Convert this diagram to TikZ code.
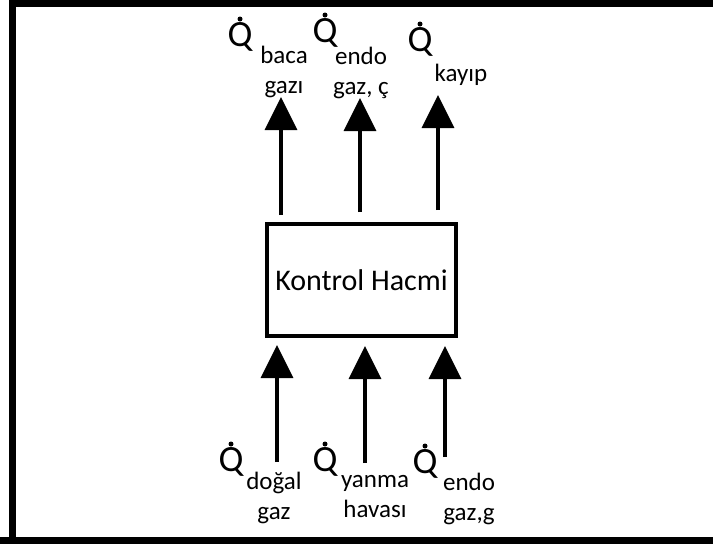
\documentclass[tikz,border=0pt]{standalone}
\usepackage{fontspec}
\setmainfont{Carlito}
\usetikzlibrary{arrows.meta}
\begin{document}
\begin{tikzpicture}[x=1pt,y=-1pt,
  flow/.style={line width=3.5pt,-{Triangle[width=32pt,length=33pt]}},
  qsym/.style={inner sep=0pt,font=\fontsize{37}{37}\selectfont},
  qdot/.style={fill=black,circle,inner sep=0pt,minimum size=5pt},
  lbl/.style={inner sep=0pt,align=center,font=\fontsize{25}{30}\selectfont},
  cvbox/.style={draw,line width=4pt,minimum width=189pt,minimum height=112pt,inner sep=0pt,font=\fontsize{30}{30}\selectfont}]
\useasboundingbox (0,0) rectangle (713,544);
% frame
\draw[line width=7pt] (12,544) -- (12,3.5) -- (713,3.5);
\draw[line width=7pt] (0,540.5) -- (713,540.5);
% control volume
\node[cvbox] (cv) at (361.5,280) {Kontrol Hacmi};
% top arrows
\coordinate (t1s) at (281,215); \coordinate (t1e) at (281,97);
\coordinate (t2s) at (360,212); \coordinate (t2e) at (360,98);
\coordinate (t3s) at (438,210); \coordinate (t3e) at (438,95);
\draw[flow] (t1s) -- (t1e);
\draw[flow] (t2s) -- (t2e);
\draw[flow] (t3s) -- (t3e);
% bottom arrows
\coordinate (b1s) at (277,462); \coordinate (b1e) at (277,345);
\coordinate (b2s) at (365,463); \coordinate (b2e) at (365,346);
\coordinate (b3s) at (445,457); \coordinate (b3e) at (445,346);
\draw[flow] (b1s) -- (b1e);
\draw[flow] (b2s) -- (b2e);
\draw[flow] (b3s) -- (b3e);
% top labels
\node[qsym] (q1) at (240,37) {Q};
\node[qdot] (d1) at (240,19) {};
\node[lbl] (l1) at (284,72) {baca\\gazı};
\node[qsym] (q2) at (325,33) {Q};
\node[qdot] (d2) at (325,15) {};
\node[lbl] (l2) at (361,73) {endo\\gaz, ç};
\node[qsym] (q3) at (420,42) {Q};
\node[qdot] (d3) at (420,24) {};
\node[lbl] (l3) at (461,75) {kayıp};
% bottom labels
\node[qsym] (q4) at (231,462) {Q};
\node[qdot] (d4) at (231,444) {};
\node[lbl] (l4) at (274,498) {doğal\\gaz};
\node[qsym] (q5) at (325,462) {Q};
\node[qdot] (d5) at (325,444) {};
\node[lbl] (l5) at (375,497) {yanma\\havası};
\node[qsym] (q6) at (425,464) {Q};
\node[qdot] (d6) at (425,446) {};
\node[lbl] (l6) at (469,499) {endo\\gaz,g};
\end{tikzpicture}
\end{document}
